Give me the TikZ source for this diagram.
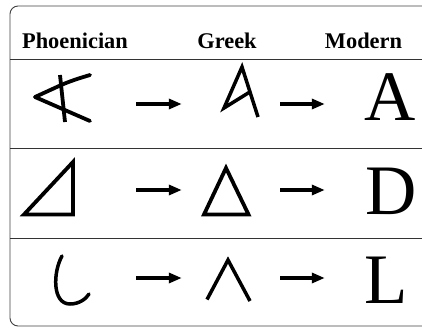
\documentclass[tikz,border=0pt]{standalone}
\usepackage{fontspec}
\setmainfont{Liberation Serif}
\usetikzlibrary{arrows.meta}
\tikzset{
  frame/.style={draw=black!75, line width=0.9pt, rounded corners=8pt},
  rule/.style={draw=black!80, line width=0.9pt},
  head/.style={font=\fontsize{22.4}{24}\selectfont\bfseries, inner sep=0pt, anchor=base},
  modern/.style={font=\fontsize{71}{71}\selectfont, inner sep=0pt, anchor=base west},
  glyph/.style={line width=3.8pt, line join=miter, line cap=butt},
  cell/.style={inner sep=0pt, minimum height=20pt},
  evo/.style={line width=3.2pt, -{Triangle[length=13pt,width=10pt]}},
}
\begin{document}
\begin{tikzpicture}[x=1pt,y=-1pt]
\useasboundingbox (0,0) rectangle (422,327);
\clip (0,0) rectangle (422,327);
\draw[frame] (10,6) rectangle (440,326);
\draw[rule] (10,59) -- (422,59);
\draw[rule] (10,148) -- (422,148);
\draw[rule] (10,238) -- (422,238);
% headers
\node[head] (h1) at (75,48) {Phoenician};
\node[head] (h2) at (227,48) {Greek};
\node[head] (h3) at (363.5,48) {Modern};
% cells (for arrows)
\node[cell, minimum width=154pt] (p1) at (59,104) {};
\node[cell, minimum width=98pt] (g1) at (231,104) {};
\node[cell, minimum width=96pt] (c1) at (373,104) {};
\node[cell, minimum width=154pt] (p2) at (59,190) {};
\node[cell, minimum width=98pt] (g2) at (231,190) {};
\node[cell, minimum width=96pt] (c2) at (373,190) {};
\node[cell, minimum width=154pt] (p3) at (59,278) {};
\node[cell, minimum width=98pt] (g3) at (231,278) {};
\node[cell, minimum width=96pt] (c3) at (373,278) {};
% modern letters
\node[modern] (m1) at (364.5,120) {A};
\node[modern] (m2) at (365.5,214) {D};
\node[modern] (m3) at (364.5,303) {L};
% Phoenician aleph
\draw[glyph, line cap=round] (35,97) -- (90,121);
\draw[glyph, line cap=round] (35,97) -- (59,86) .. controls (70,81) and (80,78) .. (90,75);
\draw[glyph] (60,75) -- (65,122);
% Greek alpha
\draw[glyph, line width=3.5pt] (258,117) -- (242,67) -- (224,108) -- (249,92.5);
% Phoenician dalet
\draw[glyph] (24,214.5) -- (73,162) -- (73,214.5) -- cycle;
% Greek delta
\draw[glyph] (204,214.5) -- (226,168) -- (248.5,214.5) -- cycle;
% Phoenician lamed
\draw[glyph, line width=3.5pt, line cap=round] (62,256) .. controls (53,272) and (52,304) .. (70,304) .. controls (79,304) and (86,299) .. (89,294);
% Greek lambda
\draw[glyph, line width=3.5pt] (207,299.5) -- (228,260) -- (250,301);
% arrows
\draw[evo] (p1.east) -- (g1.west);
\draw[evo] (g1.east) -- (c1.west);
\draw[evo] (p2.east) -- (g2.west);
\draw[evo] (g2.east) -- (c2.west);
\draw[evo] (p3.east) -- (g3.west);
\draw[evo] (g3.east) -- (c3.west);
\end{tikzpicture}
\end{document}
